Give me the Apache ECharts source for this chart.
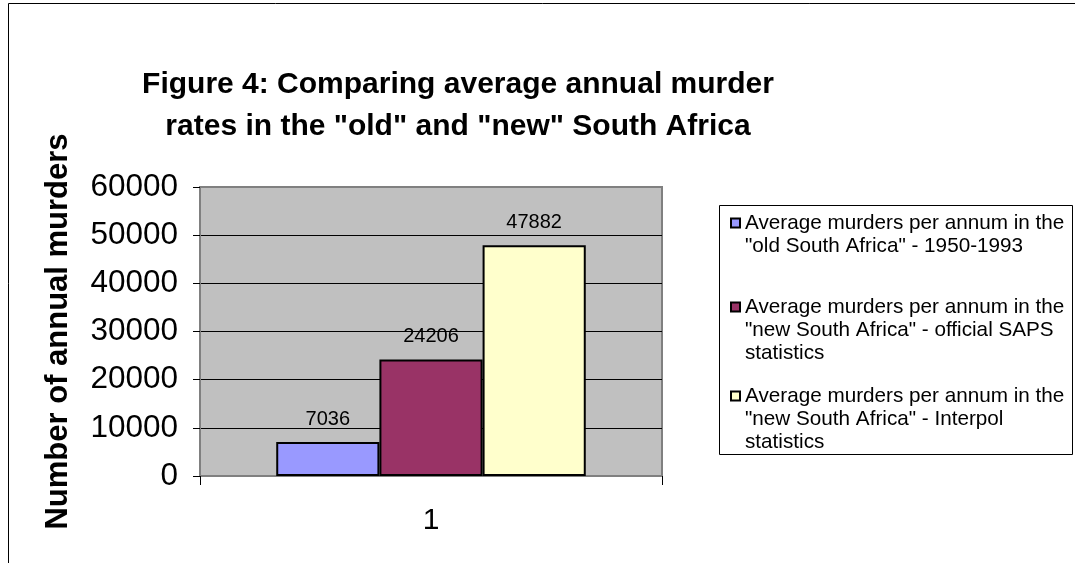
<!DOCTYPE html>
<html>
<head>
<meta charset="utf-8">
<script src="https://cdn.jsdelivr.net/npm/echarts@6/dist/echarts.min.js"></script>
<style>
  html, body { margin: 0; padding: 0; background: #fff; }
  #chart { width: 1075px; height: 563px; }
</style>
</head>
<body>
<div id="chart"></div>
<script>
// chart data
const categories = ['1']
const seriesNames = [
  'Average murders per annum in the "old South Africa" - 1950-1993',
  'Average murders per annum in the "new South Africa" - official SAPS statistics',
  'Average murders per annum in the "new South Africa" - Interpol statistics'
]
const legendLines = [
  ['Average murders per annum in the', '"old South Africa" - 1950-1993'],
  ['Average murders per annum in the', '"new South Africa" - official SAPS', 'statistics'],
  ['Average murders per annum in the', '"new South Africa" - Interpol', 'statistics']
]
const oldSA = [7036]
const sapsNew = [24206]
const interpolNew = [47882]
const seriesValues = [oldSA, sapsNew, interpolNew]
const seriesColors = ['#9999FF', '#993366', '#FFFFCC']
const yMin = 0
const yMax = 60000
const yStep = 10000

const FONT = '"Liberation Sans", Arial, sans-serif'
const LINE_H = 23
// centre of the first text line of each legend entry
const legendFirstLine = [223, 307, 396]

const chart = echarts.init(document.getElementById('chart'))

// one legend per entry; blank lines in front keep the icon on the first text line
const legends = seriesNames.map((name, i) => {
  const n = legendLines[i].length
  const blanks = new Array(n - 1).fill(' ')
  return {
    data: [name],
    orient: 'vertical',
    left: 730,
    top: legendFirstLine[i] - (2 * n - 1) * LINE_H / 2,
    padding: 0,
    icon: 'rect',
    itemWidth: 9,
    itemHeight: 9,
    selectedMode: false,
    formatter: () => blanks.concat(legendLines[i]).join('\n'),
    textStyle: { fontFamily: FONT, fontSize: 20.7, color: '#000', lineHeight: LINE_H }
  }
})

chart.setOption({
  animation: false,
  graphic: [
    {
      type: 'rect',
      shape: { x: 8.5, y: 3.5, width: 1200, height: 700 },
      style: { fill: 'none', stroke: '#000', lineWidth: 1 },
      silent: true
    },
    {
      type: 'rect',
      shape: { x: 719.5, y: 205.5, width: 353, height: 249 },
      style: { fill: '#fff', stroke: '#000', lineWidth: 1 },
      silent: true
    },
    {
      type: 'text',
      x: 458,
      y: 64,
      style: {
        text: 'Figure 4: Comparing average annual murder\nrates in the "old" and "new" South Africa',
        font: 'bold 30px ' + FONT,
        fill: '#000',
        align: 'center',
        lineHeight: 42
      },
      silent: true
    }
  ],
  legend: legends,
  grid: {
    left: 200,
    right: 413,
    top: 187,
    bottom: 87,
    show: true,
    backgroundColor: '#C0C0C0',
    borderColor: '#808080',
    borderWidth: 2,
    outerBoundsMode: 'none'
  },
  xAxis: {
    type: 'category',
    data: categories,
    axisLine: { lineStyle: { color: '#808080', width: 2 } },
    axisTick: { show: true, length: 9, lineStyle: { color: '#000' } },
    axisLabel: { fontFamily: FONT, fontSize: 30, color: '#000', margin: 30 }
  },
  yAxis: {
    type: 'value',
    min: yMin,
    max: yMax,
    interval: yStep,
    name: 'Number of annual murders',
    nameLocation: 'middle',
    nameRotate: 90,
    nameGap: 126,
    nameTextStyle: { fontFamily: FONT, fontSize: 31, fontWeight: 'bold', color: '#000' },
    axisLine: { show: true, lineStyle: { color: '#808080', width: 2 } },
    axisTick: { show: true, length: 7, lineStyle: { color: '#000' } },
    axisLabel: {
      fontFamily: FONT,
      fontSize: 31.5,
      color: '#000',
      margin: 22,
      formatter: v => String(v)
    },
    splitLine: {
      lineStyle: { color: ['#808080', '#000', '#000', '#000', '#000', '#000', '#808080'], width: 1 }
    }
  },
  series: seriesNames.map((name, i) => ({
    name: name,
    type: 'bar',
    data: seriesValues[i],
    barGap: '0%',
    barCategoryGap: '33%',
    itemStyle: { color: seriesColors[i], borderColor: '#000', borderWidth: 2 },
    label: {
      show: true,
      position: 'top',
      distance: 13,
      fontFamily: FONT,
      fontSize: 20,
      color: '#000'
    }
  }))
})
</script>
</body>
</html>
